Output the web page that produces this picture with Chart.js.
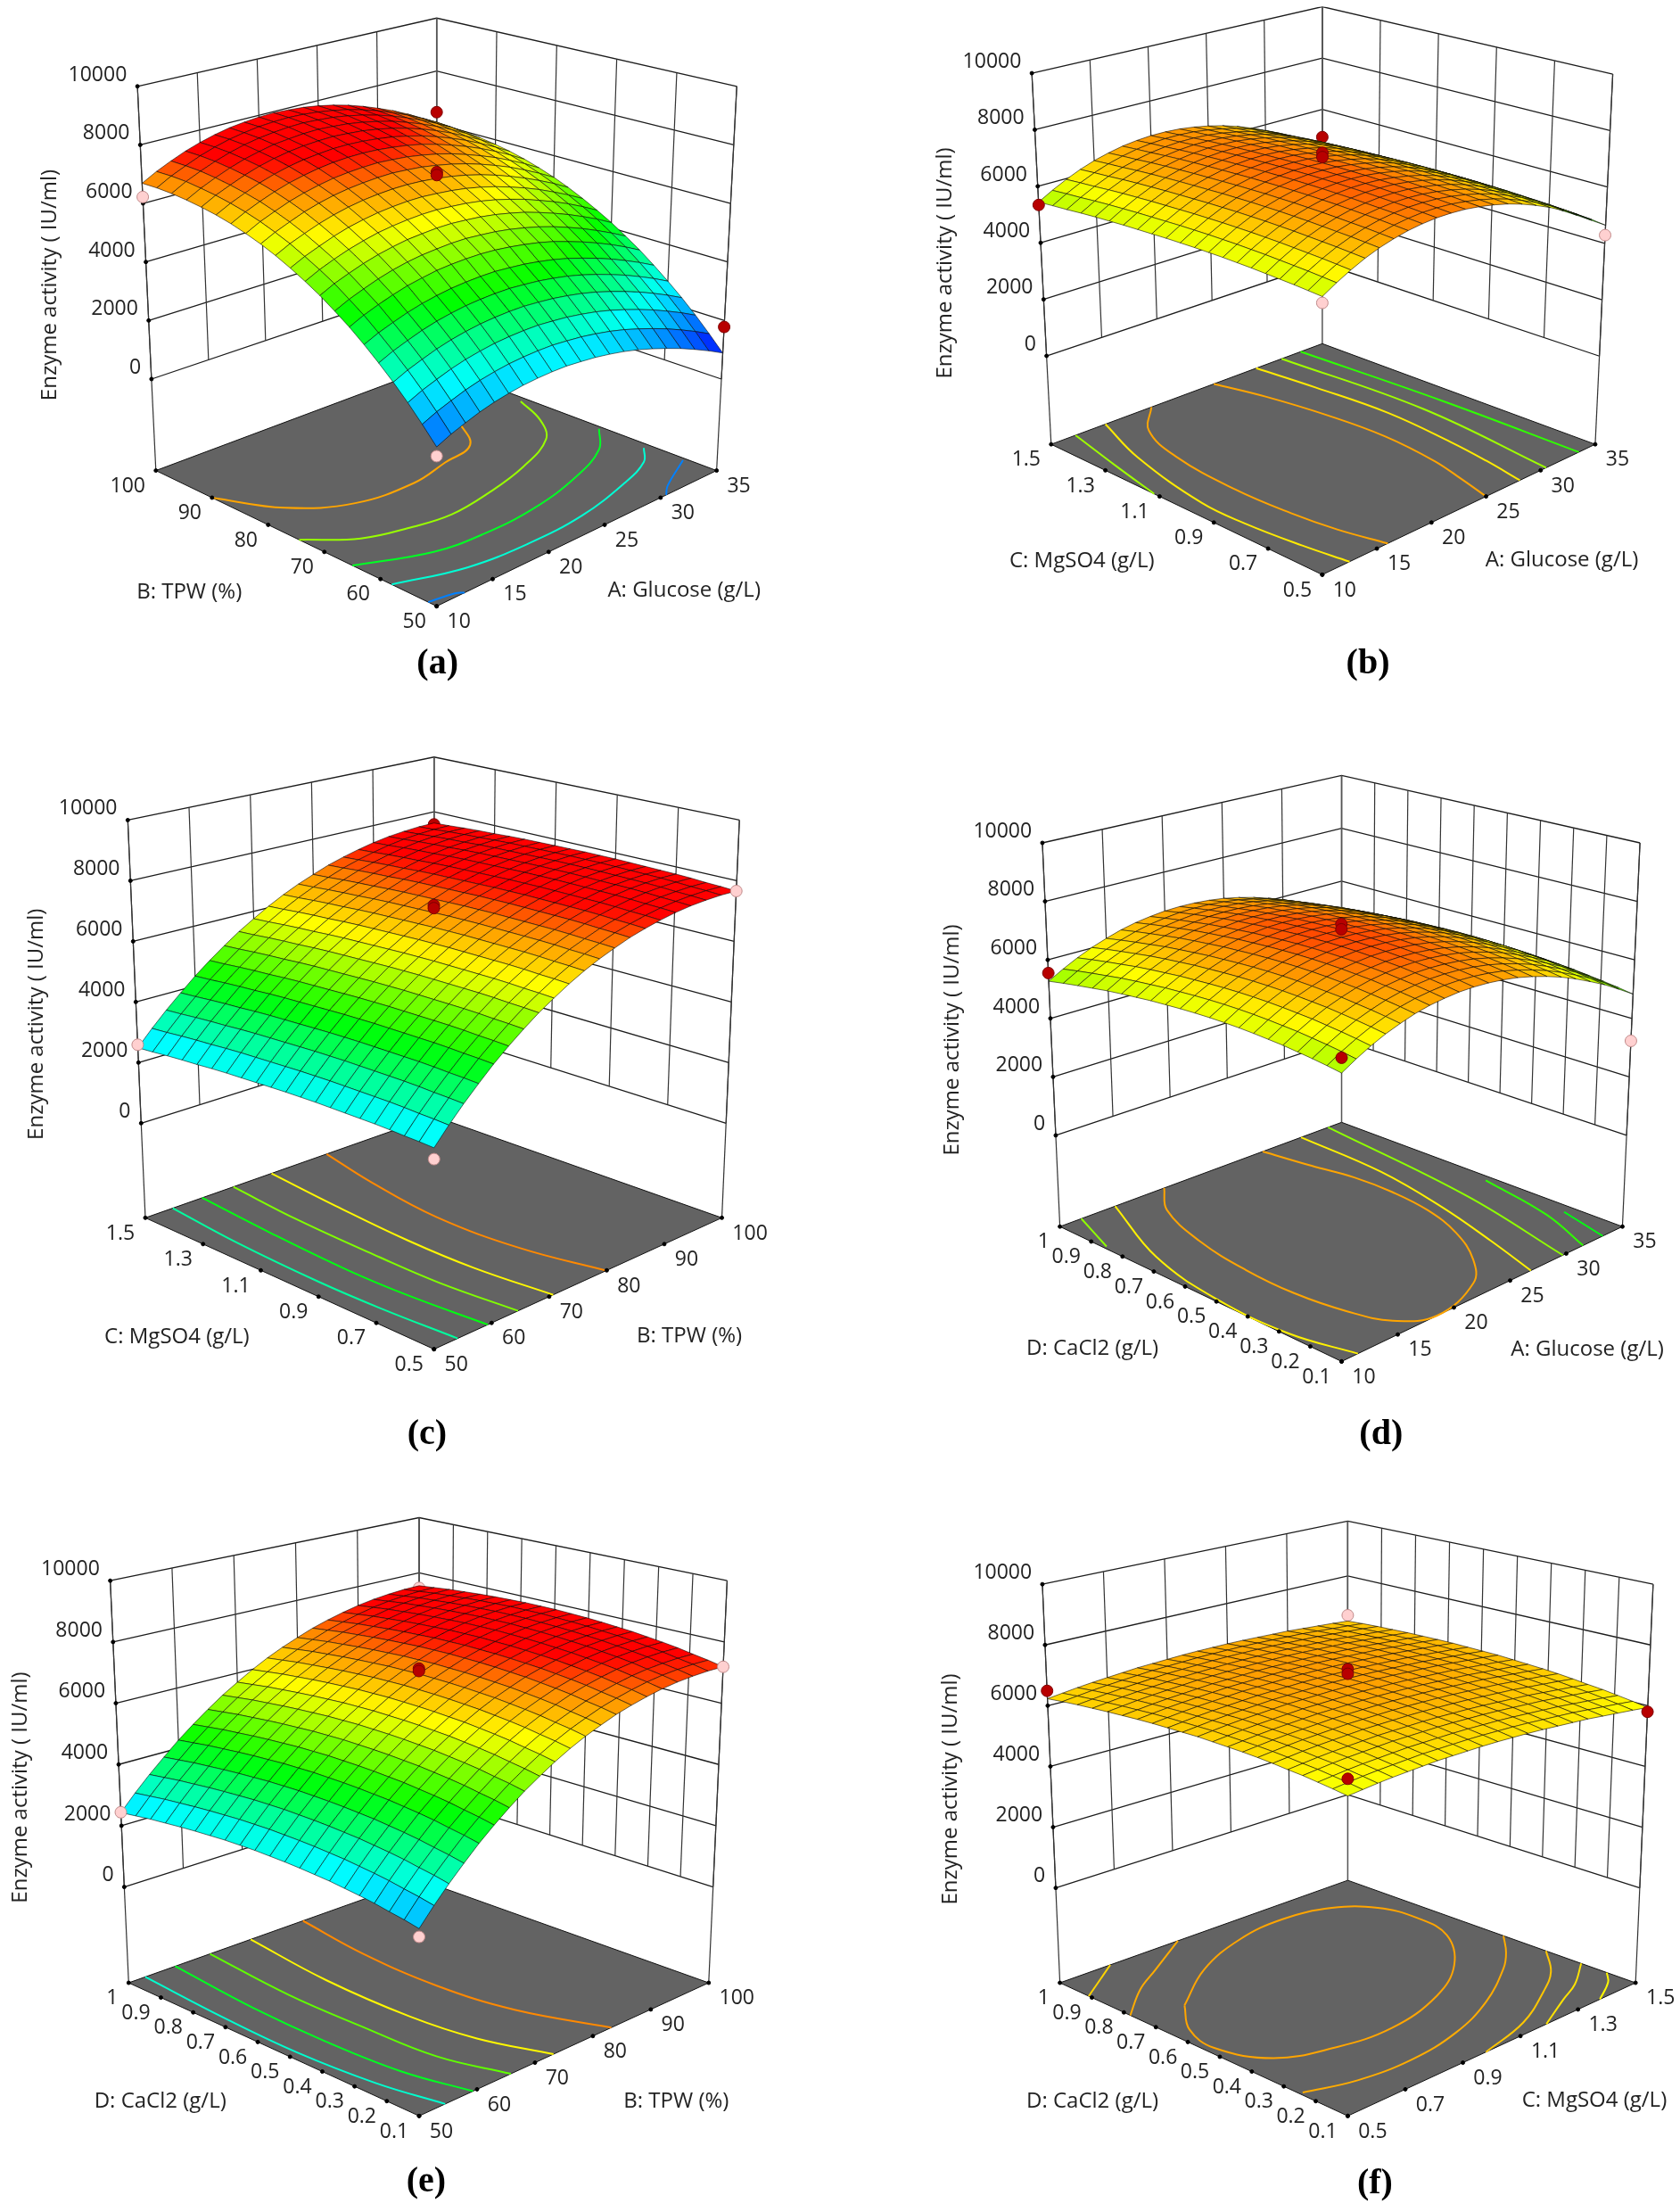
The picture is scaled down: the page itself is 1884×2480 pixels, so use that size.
<!DOCTYPE html>
<html lang="en">
<head>
<meta charset="UTF-8">
<title>Enzyme activity response surfaces</title>
<script src="https://cdn.jsdelivr.net/npm/chart.js"></script>
<style>
  body { margin: 0; background: #fff; width: 1884px; height: 2480px; position: relative; overflow: hidden; }
  canvas { position: absolute; }
</style>
</head>
<body>
<script>
// tick labels
const glucoseTicks = ['10', '15', '20', '25', '30', '35'];
const tpwTicks = ['50', '60', '70', '80', '90', '100'];
const mgso4Ticks = ['0.5', '0.7', '0.9', '1.1', '1.3', '1.5'];
const cacl2Ticks = ['0.1', '0.2', '0.3', '0.4', '0.5', '0.6', '0.7', '0.8', '0.9', '1'];
const activityTicks = [0, 2000, 4000, 6000, 8000, 10000];

// enzyme activity, one row per step of the second factor, 21 x 21
const surfaceA = [
[1540,1750,1920,2080,2210,2310,2390,2440,2470,2480,2450,2410,2340,2250,2130,1980,1810,1620,1400,1160,890],
[2040,2250,2420,2580,2710,2810,2890,2940,2970,2980,2950,2910,2840,2750,2630,2480,2310,2120,1900,1660,1390],
[2520,2730,2900,3060,3190,3290,3370,3420,3450,3460,3430,3390,3320,3230,3110,2960,2790,2600,2380,2140,1870],
[2970,3180,3350,3510,3640,3740,3820,3870,3900,3910,3880,3840,3770,3680,3560,3410,3240,3050,2830,2590,2320],
[3390,3600,3770,3930,4060,4160,4240,4290,4320,4330,4300,4260,4190,4100,3980,3830,3660,3470,3250,3010,2740],
[3790,4000,4170,4330,4460,4560,4640,4690,4720,4730,4700,4660,4590,4500,4380,4230,4060,3870,3650,3410,3140],
[4170,4390,4570,4730,4870,4970,5060,5110,5140,5150,5130,5080,5010,4920,4800,4640,4470,4270,4050,3800,3520],
[4510,4730,4910,5080,5220,5330,5410,5460,5500,5510,5480,5440,5370,5270,5150,5000,4820,4620,4390,4140,3860],
[4840,5070,5250,5420,5560,5670,5760,5810,5850,5860,5830,5790,5720,5620,5500,5340,5160,4960,4730,4480,4190],
[5130,5360,5550,5720,5860,5980,6060,6120,6160,6170,6140,6100,6030,5930,5800,5650,5460,5260,5030,4770,4480],
[5400,5630,5820,6000,6150,6260,6350,6410,6450,6460,6430,6390,6320,6220,6090,5930,5750,5540,5300,5040,4750],
[5650,5890,6080,6260,6410,6530,6620,6680,6720,6730,6710,6660,6590,6490,6360,6200,6010,5800,5560,5300,5000],
[5870,6110,6310,6500,6650,6770,6860,6920,6960,6980,6950,6910,6830,6730,6600,6440,6250,6040,5790,5520,5220],
[6060,6310,6510,6700,6850,6970,7070,7130,7170,7190,7160,7120,7040,6940,6810,6640,6450,6240,5990,5720,5410],
[6230,6480,6690,6880,7040,7160,7260,7330,7370,7380,7360,7310,7240,7140,7000,6830,6640,6420,6170,5890,5580],
[6370,6620,6830,7030,7190,7320,7420,7480,7530,7540,7520,7470,7400,7290,7160,6990,6790,6570,6310,6030,5720],
[6480,6740,6950,7150,7320,7450,7550,7620,7660,7680,7650,7610,7530,7430,7290,7120,6920,6690,6430,6150,5830],
[6570,6830,7050,7250,7420,7550,7660,7720,7770,7790,7760,7720,7640,7530,7400,7220,7020,6790,6530,6240,5920],
[6640,6910,7130,7330,7500,7640,7740,7810,7860,7880,7850,7810,7730,7620,7480,7310,7100,6870,6610,6320,5990],
[6680,6950,7170,7380,7550,7690,7790,7870,7910,7930,7910,7860,7780,7680,7530,7360,7150,6920,6650,6360,6030],
[6690,6960,7190,7400,7570,7710,7820,7890,7940,7960,7930,7890,7810,7700,7560,7380,7170,6940,6670,6370,6040]
];
const surfaceB = [
[5620,5900,6150,6370,6550,6690,6800,6870,6910,6910,6880,6810,6710,6580,6410,6200,5960,5680,5370,5020,4640],
[5650,5930,6180,6400,6580,6720,6830,6900,6940,6940,6910,6840,6740,6610,6440,6230,5990,5710,5400,5050,4670],
[5680,5960,6210,6430,6610,6750,6860,6930,6970,6970,6940,6870,6770,6640,6470,6260,6020,5740,5430,5080,4700],
[5700,5980,6230,6450,6630,6770,6880,6950,6990,6990,6960,6890,6790,6660,6490,6280,6040,5760,5450,5100,4720],
[5720,6000,6250,6470,6650,6790,6900,6970,7010,7010,6980,6910,6810,6680,6510,6300,6060,5780,5470,5120,4740],
[5740,6020,6270,6490,6670,6810,6920,6990,7030,7030,7000,6930,6830,6700,6530,6320,6080,5800,5490,5140,4760],
[5750,6030,6280,6500,6680,6820,6930,7000,7040,7040,7010,6940,6840,6710,6540,6330,6090,5810,5500,5150,4770],
[5760,6040,6290,6510,6690,6830,6940,7010,7050,7050,7020,6950,6850,6720,6550,6340,6100,5820,5510,5160,4780],
[5760,6040,6290,6510,6690,6830,6940,7010,7050,7050,7020,6950,6850,6720,6550,6340,6100,5820,5510,5160,4780],
[5760,6040,6290,6510,6690,6830,6940,7010,7050,7050,7020,6950,6850,6720,6550,6340,6100,5820,5510,5160,4780],
[5750,6030,6280,6500,6680,6820,6930,7000,7040,7040,7010,6940,6840,6710,6540,6330,6090,5810,5500,5150,4770],
[5740,6020,6270,6490,6670,6810,6920,6990,7030,7030,7000,6930,6830,6700,6530,6320,6080,5800,5490,5140,4760],
[5720,6000,6250,6470,6650,6790,6900,6970,7010,7010,6980,6910,6810,6680,6510,6300,6060,5780,5470,5120,4740],
[5700,5980,6230,6450,6630,6770,6880,6950,6990,6990,6960,6890,6790,6660,6490,6280,6040,5760,5450,5100,4720],
[5680,5960,6210,6430,6610,6750,6860,6930,6970,6970,6940,6870,6770,6640,6470,6260,6020,5740,5430,5080,4700],
[5650,5930,6180,6400,6580,6720,6830,6900,6940,6940,6910,6840,6740,6610,6440,6230,5990,5710,5400,5050,4670],
[5620,5900,6150,6370,6550,6690,6800,6870,6910,6910,6880,6810,6710,6580,6410,6200,5960,5680,5370,5020,4640],
[5580,5860,6110,6330,6510,6650,6760,6830,6870,6870,6840,6770,6670,6540,6370,6160,5920,5640,5330,4980,4600],
[5530,5810,6060,6280,6460,6600,6710,6780,6820,6820,6790,6720,6620,6490,6320,6110,5870,5590,5280,4930,4550],
[5490,5770,6020,6240,6420,6560,6670,6740,6780,6780,6750,6680,6580,6450,6280,6070,5830,5550,5240,4890,4510],
[5440,5720,5970,6190,6370,6510,6620,6690,6730,6730,6700,6630,6530,6400,6230,6020,5780,5500,5190,4840,4460]
];
const surfaceC = [
[2560,3060,3530,3970,4400,4790,5160,5510,5820,6120,6390,6630,6840,7040,7200,7340,7460,7550,7610,7650,7660],
[2590,3090,3560,4000,4430,4820,5190,5540,5850,6150,6420,6660,6870,7070,7230,7370,7490,7580,7640,7680,7690],
[2610,3110,3580,4020,4450,4840,5210,5560,5870,6170,6440,6680,6890,7090,7250,7390,7510,7600,7660,7700,7710],
[2640,3140,3610,4050,4480,4870,5240,5590,5900,6200,6470,6710,6920,7120,7280,7420,7540,7630,7690,7730,7740],
[2660,3160,3630,4070,4500,4890,5260,5610,5920,6220,6490,6730,6940,7140,7300,7440,7560,7650,7710,7750,7760],
[2670,3170,3640,4080,4510,4900,5270,5620,5930,6230,6500,6740,6950,7150,7310,7450,7570,7660,7720,7760,7770],
[2680,3180,3650,4090,4520,4910,5280,5630,5940,6240,6510,6750,6960,7160,7320,7460,7580,7670,7730,7770,7780],
[2690,3190,3660,4100,4530,4920,5290,5640,5950,6250,6520,6760,6970,7170,7330,7470,7590,7680,7740,7780,7790],
[2700,3200,3670,4110,4540,4930,5300,5650,5960,6260,6530,6770,6980,7180,7340,7480,7600,7690,7750,7790,7800],
[2700,3200,3670,4110,4540,4930,5300,5650,5960,6260,6530,6770,6980,7180,7340,7480,7600,7690,7750,7790,7800],
[2700,3200,3670,4110,4540,4930,5300,5650,5960,6260,6530,6770,6980,7180,7340,7480,7600,7690,7750,7790,7800],
[2690,3190,3660,4100,4530,4920,5290,5640,5950,6250,6520,6760,6970,7170,7330,7470,7590,7680,7740,7780,7790],
[2680,3180,3650,4090,4520,4910,5280,5630,5940,6240,6510,6750,6960,7160,7320,7460,7580,7670,7730,7770,7780],
[2670,3170,3640,4080,4510,4900,5270,5620,5930,6230,6500,6740,6950,7150,7310,7450,7570,7660,7720,7760,7770],
[2660,3160,3630,4070,4500,4890,5260,5610,5920,6220,6490,6730,6940,7140,7300,7440,7560,7650,7710,7750,7760],
[2640,3140,3610,4050,4480,4870,5240,5590,5900,6200,6470,6710,6920,7120,7280,7420,7540,7630,7690,7730,7740],
[2610,3110,3580,4020,4450,4840,5210,5560,5870,6170,6440,6680,6890,7090,7250,7390,7510,7600,7660,7700,7710],
[2590,3090,3560,4000,4430,4820,5190,5540,5850,6150,6420,6660,6870,7070,7230,7370,7490,7580,7640,7680,7690],
[2560,3060,3530,3970,4400,4790,5160,5510,5820,6120,6390,6630,6840,7040,7200,7340,7460,7550,7610,7650,7660],
[2520,3020,3490,3930,4360,4750,5120,5470,5780,6080,6350,6590,6800,7000,7160,7300,7420,7510,7570,7610,7620],
[2490,2990,3460,3900,4330,4720,5090,5440,5750,6050,6320,6560,6770,6970,7130,7270,7390,7480,7540,7580,7590]
];
const surfaceD = [
[5350,5630,5880,6100,6280,6440,6560,6640,6700,6720,6710,6670,6600,6490,6350,6180,5970,5730,5470,5160,4830],
[5430,5710,5960,6180,6360,6520,6640,6720,6780,6800,6790,6750,6680,6570,6430,6260,6050,5810,5550,5240,4910],
[5500,5780,6030,6250,6430,6590,6710,6790,6850,6870,6860,6820,6750,6640,6500,6330,6120,5880,5620,5310,4980],
[5560,5840,6090,6310,6490,6650,6770,6850,6910,6930,6920,6880,6810,6700,6560,6390,6180,5940,5680,5370,5040],
[5620,5900,6150,6370,6550,6710,6830,6910,6970,6990,6980,6940,6870,6760,6620,6450,6240,6000,5740,5430,5100],
[5660,5940,6190,6410,6590,6750,6870,6950,7010,7030,7020,6980,6910,6800,6660,6490,6280,6040,5780,5470,5140],
[5700,5980,6230,6450,6630,6790,6910,6990,7050,7070,7060,7020,6950,6840,6700,6530,6320,6080,5820,5510,5180],
[5730,6010,6260,6480,6660,6820,6940,7020,7080,7100,7090,7050,6980,6870,6730,6560,6350,6110,5850,5540,5210],
[5750,6030,6280,6500,6680,6840,6960,7040,7100,7120,7110,7070,7000,6890,6750,6580,6370,6130,5870,5560,5230],
[5760,6040,6290,6510,6690,6850,6970,7050,7110,7130,7120,7080,7010,6900,6760,6590,6380,6140,5880,5570,5240],
[5760,6040,6290,6510,6690,6850,6970,7050,7110,7130,7120,7080,7010,6900,6760,6590,6380,6140,5880,5570,5240],
[5750,6030,6280,6500,6680,6840,6960,7040,7100,7120,7110,7070,7000,6890,6750,6580,6370,6130,5870,5560,5230],
[5730,6010,6260,6480,6660,6820,6940,7020,7080,7100,7090,7050,6980,6870,6730,6560,6350,6110,5850,5540,5210],
[5710,5990,6240,6460,6640,6800,6920,7000,7060,7080,7070,7030,6960,6850,6710,6540,6330,6090,5830,5520,5190],
[5670,5950,6200,6420,6600,6760,6880,6960,7020,7040,7030,6990,6920,6810,6670,6500,6290,6050,5790,5480,5150],
[5630,5910,6160,6380,6560,6720,6840,6920,6980,7000,6990,6950,6880,6770,6630,6460,6250,6010,5750,5440,5110],
[5580,5860,6110,6330,6510,6670,6790,6870,6930,6950,6940,6900,6830,6720,6580,6410,6200,5960,5700,5390,5060],
[5510,5790,6040,6260,6440,6600,6720,6800,6860,6880,6870,6830,6760,6650,6510,6340,6130,5890,5630,5320,4990],
[5440,5720,5970,6190,6370,6530,6650,6730,6790,6810,6800,6760,6690,6580,6440,6270,6060,5820,5560,5250,4920],
[5360,5640,5890,6110,6290,6450,6570,6650,6710,6730,6720,6680,6610,6500,6360,6190,5980,5740,5480,5170,4840],
[5270,5550,5800,6020,6200,6360,6480,6560,6620,6640,6630,6590,6520,6410,6270,6100,5890,5650,5390,5080,4750]
];
const surfaceE = [
[2090,2590,3060,3500,3930,4320,4690,5040,5350,5650,5920,6160,6370,6570,6730,6870,6990,7080,7140,7180,7190],
[2190,2690,3160,3600,4030,4420,4790,5140,5450,5750,6020,6260,6470,6670,6830,6970,7090,7180,7240,7280,7290],
[2270,2770,3240,3680,4110,4500,4870,5220,5530,5830,6100,6340,6550,6750,6910,7050,7170,7260,7320,7360,7370],
[2360,2860,3330,3770,4200,4590,4960,5310,5620,5920,6190,6430,6640,6840,7000,7140,7260,7350,7410,7450,7460],
[2430,2930,3400,3840,4270,4660,5030,5380,5690,5990,6260,6500,6710,6910,7070,7210,7330,7420,7480,7520,7530],
[2490,2990,3460,3900,4330,4720,5090,5440,5750,6050,6320,6560,6770,6970,7130,7270,7390,7480,7540,7580,7590],
[2550,3050,3520,3960,4390,4780,5150,5500,5810,6110,6380,6620,6830,7030,7190,7330,7450,7540,7600,7640,7650],
[2590,3090,3560,4000,4430,4820,5190,5540,5850,6150,6420,6660,6870,7070,7230,7370,7490,7580,7640,7680,7690],
[2630,3130,3600,4040,4470,4860,5230,5580,5890,6190,6460,6700,6910,7110,7270,7410,7530,7620,7680,7720,7730],
[2660,3160,3630,4070,4500,4890,5260,5610,5920,6220,6490,6730,6940,7140,7300,7440,7560,7650,7710,7750,7760],
[2680,3180,3650,4090,4520,4910,5280,5630,5940,6240,6510,6750,6960,7160,7320,7460,7580,7670,7730,7770,7780],
[2700,3200,3670,4110,4540,4930,5300,5650,5960,6260,6530,6770,6980,7180,7340,7480,7600,7690,7750,7790,7800],
[2700,3200,3670,4110,4540,4930,5300,5650,5960,6260,6530,6770,6980,7180,7340,7480,7600,7690,7750,7790,7800],
[2700,3200,3670,4110,4540,4930,5300,5650,5960,6260,6530,6770,6980,7180,7340,7480,7600,7690,7750,7790,7800],
[2680,3180,3650,4090,4520,4910,5280,5630,5940,6240,6510,6750,6960,7160,7320,7460,7580,7670,7730,7770,7780],
[2660,3160,3630,4070,4500,4890,5260,5610,5920,6220,6490,6730,6940,7140,7300,7440,7560,7650,7710,7750,7760],
[2630,3130,3600,4040,4470,4860,5230,5580,5890,6190,6460,6700,6910,7110,7270,7410,7530,7620,7680,7720,7730],
[2590,3090,3560,4000,4430,4820,5190,5540,5850,6150,6420,6660,6870,7070,7230,7370,7490,7580,7640,7680,7690],
[2550,3050,3520,3960,4390,4780,5150,5500,5810,6110,6380,6620,6830,7030,7190,7330,7450,7540,7600,7640,7650],
[2490,2990,3460,3900,4330,4720,5090,5440,5750,6050,6320,6560,6770,6970,7130,7270,7390,7480,7540,7580,7590],
[2430,2930,3400,3840,4270,4660,5030,5380,5690,5990,6260,6500,6710,6910,7070,7210,7330,7420,7480,7520,7530]
];
const surfaceF = [
[5820,5880,5940,5990,6030,6070,6110,6130,6150,6170,6180,6180,6180,6170,6150,6130,6110,6070,6030,5990,5940],
[5900,5960,6020,6070,6110,6150,6190,6210,6230,6250,6260,6260,6260,6250,6230,6210,6190,6150,6110,6070,6020],
[5970,6030,6090,6140,6180,6220,6260,6280,6300,6320,6330,6330,6330,6320,6300,6280,6260,6220,6180,6140,6090],
[6040,6100,6160,6210,6250,6290,6330,6350,6370,6390,6400,6400,6400,6390,6370,6350,6330,6290,6250,6210,6160],
[6090,6150,6210,6260,6300,6340,6380,6400,6420,6440,6450,6450,6450,6440,6420,6400,6380,6340,6300,6260,6210],
[6150,6210,6270,6320,6360,6400,6440,6460,6480,6500,6510,6510,6510,6500,6480,6460,6440,6400,6360,6320,6270],
[6200,6260,6320,6370,6410,6450,6490,6510,6530,6550,6560,6560,6560,6550,6530,6510,6490,6450,6410,6370,6320],
[6240,6300,6360,6410,6450,6490,6530,6550,6570,6590,6600,6600,6600,6590,6570,6550,6530,6490,6450,6410,6360],
[6270,6330,6390,6440,6480,6520,6560,6580,6600,6620,6630,6630,6630,6620,6600,6580,6560,6520,6480,6440,6390],
[6300,6360,6420,6470,6510,6550,6590,6610,6630,6650,6660,6660,6660,6650,6630,6610,6590,6550,6510,6470,6420],
[6330,6390,6450,6500,6540,6580,6620,6640,6660,6680,6690,6690,6690,6680,6660,6640,6620,6580,6540,6500,6450],
[6340,6400,6460,6510,6550,6590,6630,6650,6670,6690,6700,6700,6700,6690,6670,6650,6630,6590,6550,6510,6460],
[6350,6410,6470,6520,6560,6600,6640,6660,6680,6700,6710,6710,6710,6700,6680,6660,6640,6600,6560,6520,6470],
[6360,6420,6480,6530,6570,6610,6650,6670,6690,6710,6720,6720,6720,6710,6690,6670,6650,6610,6570,6530,6480],
[6360,6420,6480,6530,6570,6610,6650,6670,6690,6710,6720,6720,6720,6710,6690,6670,6650,6610,6570,6530,6480],
[6350,6410,6470,6520,6560,6600,6640,6660,6680,6700,6710,6710,6710,6700,6680,6660,6640,6600,6560,6520,6470],
[6340,6400,6460,6510,6550,6590,6630,6650,6670,6690,6700,6700,6700,6690,6670,6650,6630,6590,6550,6510,6460],
[6320,6380,6440,6490,6530,6570,6610,6630,6650,6670,6680,6680,6680,6670,6650,6630,6610,6570,6530,6490,6440],
[6300,6360,6420,6470,6510,6550,6590,6610,6630,6650,6660,6660,6660,6650,6630,6610,6590,6550,6510,6470,6420],
[6270,6330,6390,6440,6480,6520,6560,6580,6600,6620,6630,6630,6630,6620,6600,6580,6560,6520,6480,6440,6390],
[6230,6290,6350,6400,6440,6480,6520,6540,6560,6580,6590,6590,6590,6580,6560,6540,6520,6480,6440,6400,6350]
];

// contour lines on the floor: [level, [first factor, second factor], ...]
const contoursA = [
  [6650, [10,90],[12.5,82],[16.25,77],[21,76],[24.5,77.5],[27.5,79],[29.5,85],[31.5,91.5],[32.5,100]],
  [5355, [10,74.5],[13,69.5],[16.5,67.25],[19.5,66.25],[23.25,67.25],[27.5,69.5],[31.4,73.25],[33.25,78],[34.5,84]],
  [4172, [10,65],[15,60.5],[19,59.5],[23.75,60],[28.75,62.5],[32.5,66],[34.75,70.5]],
  [3062, [10,58],[15,54.5],[20,53.5],[25,54],[30,56.5],[33,59],[34.5,62]],
  [1852, [10,51.5],[12,50.75],[12.5,50]],
  [1852, [30.5,50],[31.5,51.75],[34.75,55.5]]
];
const contoursB = [
  [6650, [25,1.5],[26,1.35],[26.75,1.15],[27,0.95],[26.5,0.75],[25.75,0.62],[25,0.5]],
  [6650, [19.25,1.5],[16.5,1.4],[15,1.24],[14.4,1],[14.6,0.8],[15.1,0.65],[16,0.5]],
  [6150, [28.9,1.5],[29.4,1.3],[29.75,1.05],[29.25,0.8],[28.75,0.65],[28.1,0.5]],
  [6150, [15,1.5],[13,1.3],[11.4,1],[11.4,0.84],[11.9,0.65],[12.5,0.5]],
  [5400, [31.25,1.5],[31.75,1],[30.5,0.5]],
  [5400, [12.25,1.5],[11,1.3],[10,1.12]],
  [4700, [33,1.5],[33.5,1],[33.5,0.5]]
];
const contoursC = [
  [6850, [79.9,0.5],[77.5,0.75],[77,1.03],[79,1.3],[81.4,1.5]],
  [6050, [70.7,0.5],[69.5,0.75],[69.5,0.98],[70.5,1.25],[71.85,1.5]],
  [5200, [64.6,0.5],[63.5,0.75],[63.5,0.96],[64,1.25],[65.25,1.5]],
  [4300, [59.35,0.5],[58.25,0.75],[58,0.96],[58.75,1.25],[59.85,1.5]],
  [3400, [54.1,0.5],[53.25,0.75],[53,0.96],[53.5,1.25],[54.75,1.5]]
];
const contoursD = [
  [6650, [19.25,1],[17,0.91],[15.3,0.745],[14.5,0.568],[14.4,0.41],[15,0.262],[16.1,0.156],[18.5,0.1],[23.25,0.154],[25.6,0.24],[27.6,0.366],[28.8,0.5],[29.25,0.63],[29.2,0.75],[28.6,0.865],[28,1]],
  [6100, [31.4,1],[31,0.73],[29.75,0.49],[28.25,0.28],[26.85,0.1]],
  [6100, [14.9,1],[11.6,0.75],[10.25,0.51],[10.25,0.28],[11.45,0.1]],
  [5300, [33.8,1],[32,0.49],[29.7,0.1]],
  [5300, [11.9,1],[10.25,0.86]],
  [4700, [34.5,0.52],[33.25,0.28],[31.5,0.1]],
  [4300, [34.25,0.26],[33.25,0.1]]
];
const contoursE = [
  [6850, [83.2,0.1],[79,0.325],[77.5,0.54],[78,0.775],[80,1]],
  [6050, [73.2,0.1],[70,0.28],[68.75,0.465],[69,0.73],[71,1]],
  [5000, [65.85,0.1],[63,0.28],[62.5,0.505],[62.5,0.73],[64,1]],
  [4200, [59.3,0.1],[57,0.28],[56.25,0.505],[56.5,0.73],[58,1]],
  [3100, [54.5,0.1],[52.5,0.28],[51.5,0.505],[51.75,0.73],[52.85,1]]
];
const contoursF = [
  [6650, [0.644,0.74],[0.554,0.644],[0.525,0.54],[0.592,0.415],[0.736,0.36],[0.92,0.34],[1.13,0.388],[1.29,0.478],[1.41,0.609],[1.44,0.73],[1.42,0.834],[1.34,0.906],[1.2,0.934],[1.03,0.915],[0.83,0.847],[0.644,0.74]],
  [6600, [0.5,0.78],[0.625,0.862],[0.735,0.915],[0.91,1]],
  [6600, [0.51,0.25],[0.653,0.207],[0.827,0.194],[1.01,0.22],[1.185,0.284],[1.357,0.384],[1.43,0.442],[1.5,0.513]],
  [6300, [0.5,0.91],[0.675,1]],
  [6400, [1.5,0.38],[1.417,0.29],[1.32,0.226],[1.16,0.145],[0.98,0.1]],
  [6200, [1.5,0.27],[1.4,0.2],[1.32,0.163],[1.19,0.1]],
  [6050, [1.5,0.19],[1.46,0.15],[1.376,0.1]]
];

// design points: above (red) and below (pink) the surface
const redPointsA = [[35,100,6445],[22.5,75,7150],[22.5,75,7050],[35,50,1780]];
const pinkPointsA = [[10,100,6220],[10,50,1270]];
const redPointsB = [[35,1.5,4920],[22.5,1,7370],[22.5,1,7217],[10,1.5,5340]];
const pinkPointsB = [[35,0.5,4290],[10,0.5,5420]];
const redPointsC = [[100,1.5,7540],[75,1,7250],[75,1,7155]];
const pinkPointsC = [[50,1.5,2590],[100,0.5,7660],[50,0.5,2240]];
const redPointsD = [[22.5,0.55,7310],[22.5,0.55,7130],[10,1,5550],[10,0.1,5800]];
const pinkPointsD = [[35,0.1,3230]];
const redPointsE = [[75,0.55,7190],[75,0.55,7110]];
const pinkPointsE = [[100,1,7450],[50,1,2440],[100,0.1,7190],[50,0.1,1860]];
const redPointsF = [[1,0.55,7250],[1,0.55,7100],[0.5,1,6490],[1.5,0.1,5800],[0.5,0.1,6300]];
const pinkPointsF = [[1.5,1,6560]];

// page layout of each panel: box corners on floor and top, canvas frame, text places
const panels = [
  { name: '(a)', frame: [0, 0, 942, 800], zFloor: -3125,
    floor: { F: [490,685], R: [809,530], L: [170,530], B: [490,410] },
    top: { F: [490,173], R: [832,91], L: [149,91], B: [490,13] },
    aTicks: glucoseTicks, bTicks: tpwTicks, surface: surfaceA, contours: contoursA, red: redPointsA, pink: pinkPointsA,
    aTitle: ['A: Glucose (g/L)', 772, 667], bTitle: ['B: TPW (%)', 208, 669], yTitle: [49, 318], caption: [491, 751] },
  { name: '(b)', frame: [942, 0, 942, 800], zFloor: -3127,
    floor: { F: [1484,649], R: [1795,500], L: [1175,500], B: [1484,385] },
    top: { F: [1484,172], R: [1815,77], L: [1153,76], B: [1484,0] },
    aTicks: glucoseTicks, bTicks: mgso4Ticks, surface: surfaceB, contours: contoursB, red: redPointsB, pink: pinkPointsB,
    aTitle: ['A: Glucose (g/L)', 1757, 633], bTitle: ['C: MgSO4 (g/L)', 1210, 634], yTitle: [1054, 293], caption: [1536, 751] },
  { name: '(c)', frame: [0, 800, 942, 840], zFloor: -3121,
    floor: { F: [487,1518], R: [815,1368], L: [158,1368], B: [487,1252] },
    top: { F: [487,987], R: [835,914], L: [138,914], B: [487,842] },
    aTicks: tpwTicks, bTicks: mgso4Ticks, surface: surfaceC, contours: contoursC, red: redPointsC, pink: pinkPointsC,
    aTitle: ['B: TPW (%)', 778, 1503], bTitle: ['C: MgSO4 (g/L)', 194, 1504], yTitle: [34, 1147], caption: [479, 1616] },
  { name: '(d)', frame: [942, 800, 942, 840], zFloor: -3118,
    floor: { F: [1506,1532], R: [1826,1378], L: [1185,1378], B: [1506,1259] },
    top: { F: [1506,1022], R: [1846,940], L: [1165,940], B: [1506,863] },
    aTicks: glucoseTicks, bTicks: cacl2Ticks, surface: surfaceD, contours: contoursD, red: redPointsD, pink: pinkPointsD,
    aTitle: ['A: Glucose (g/L)', 1786, 1518], bTitle: ['D: CaCl2 (g/L)', 1222, 1517], yTitle: [1063, 1165], caption: [1551, 1616] },
  { name: '(e)', frame: [0, 1640, 942, 840], zFloor: -3129,
    floor: { F: [470,2378], R: [800,2226], L: [139,2226], B: [470,2108] },
    top: { F: [470,1840], R: [821,1767], L: [118,1767], B: [470,1695] },
    aTicks: tpwTicks, bTicks: cacl2Ticks, surface: surfaceE, contours: contoursE, red: redPointsE, pink: pinkPointsE,
    aTitle: ['B: TPW (%)', 763, 2362], bTitle: ['D: CaCl2 (g/L)', 175, 2362], yTitle: [16, 2003], caption: [478, 2454] },
  { name: '(f)', frame: [942, 1640, 942, 840], zFloor: -3125,
    floor: { F: [1513,2378], R: [1841,2226], L: [1185,2226], B: [1513,2109] },
    top: { F: [1513,1842], R: [1861,1771], L: [1165,1771], B: [1513,1699] },
    aTicks: mgso4Ticks, bTicks: cacl2Ticks, surface: surfaceF, contours: contoursF, red: redPointsF, pink: pinkPointsF,
    aTitle: ['C: MgSO4 (g/L)', 1794, 2361], bTitle: ['D: CaCl2 (g/L)', 1222, 2362], yTitle: [1061, 2005], caption: [1544, 2456] }
];

// colour ramp used by the surface and the contours
const rampLevels = [900, 2800, 4400, 6000, 6900, 7400];
const rampColors = [[0,0,255],[0,255,255],[0,255,0],[255,255,0],[255,130,0],[255,0,0]];

function rampColor(z) {
  if (z <= rampLevels[0]) return 'rgb(0,0,255)';
  for (let i = 1; i < rampLevels.length; i++) {
    if (z <= rampLevels[i]) {
      const t = (z - rampLevels[i-1]) / (rampLevels[i] - rampLevels[i-1]);
      const c = rampColors[i-1].map((v, k) => Math.round(v + (rampColors[i][k] - v) * t));
      return 'rgb(' + c.join(',') + ')';
    }
  }
  return 'rgb(255,0,0)';
}

function drawPanel(p) {
  const aMin = parseFloat(p.aTicks[0]), aMax = parseFloat(p.aTicks[p.aTicks.length-1]);
  const bMin = parseFloat(p.bTicks[0]), bMax = parseFloat(p.bTicks[p.bTicks.length-1]);

  function corner(c, u, v, k) {
    return c.F[k]*(1-u)*(1-v) + c.R[k]*u*(1-v) + c.L[k]*(1-u)*v + c.B[k]*u*v;
  }
  // 3D value -> position inside the box
  function project(a, b, z) {
    const u = (a - aMin) / (aMax - aMin), v = (b - bMin) / (bMax - bMin);
    const t = (z - p.zFloor) / (10000 - p.zFloor);
    return {
      x: corner(p.floor, u, v, 0) + (corner(p.top, u, v, 0) - corner(p.floor, u, v, 0)) * t,
      y: corner(p.floor, u, v, 1) + (corner(p.top, u, v, 1) - corner(p.floor, u, v, 1)) * t
    };
  }

  const sets = [];
  const line = (pts, color, width, tension) => sets.push({
    data: pts, showLine: true, borderColor: color, borderWidth: width, pointRadius: 0, tension: tension || 0, fill: false
  });
  const dots = (pts, fillCol, edgeCol, r) => sets.push({
    data: pts, showLine: false, pointRadius: r, backgroundColor: fillCol, borderColor: edgeCol, borderWidth: 1
  });
  const shape = (pts, fillCol, edgeCol, width) => sets.push({
    data: pts, showLine: true, fill: 'shape', backgroundColor: fillCol, borderColor: edgeCol, borderWidth: width, pointRadius: 0, tension: 0
  });

  // back walls
  activityTicks.forEach(z => line([project(aMin,bMax,z), project(aMax,bMax,z), project(aMax,bMin,z)], '#1c1c1c', 1.3));
  p.aTicks.forEach(t => line([project(parseFloat(t),bMax,0), project(parseFloat(t),bMax,10000)], '#333', 1.2));
  p.bTicks.forEach(t => line([project(aMax,parseFloat(t),0), project(aMax,parseFloat(t),10000)], '#333', 1.2));
  line([project(aMin,bMax,p.zFloor), project(aMin,bMax,10000)], '#333', 1.2);
  line([project(aMax,bMax,p.zFloor), project(aMax,bMax,10000)], '#555', 1.5);
  line([project(aMax,bMin,p.zFloor), project(aMax,bMin,10000)], '#333', 1.2);

  // floor with its contours
  const z0 = p.zFloor;
  shape([project(aMin,bMin,z0), project(aMax,bMin,z0), project(aMax,bMax,z0), project(aMin,bMax,z0), project(aMin,bMin,z0)], '#636363', '#111', 1);
  p.contours.forEach(c => line(c.slice(1).map(q => project(q[0], q[1], z0)), rampColor(c[0]), 2, 0.4));

  // tick dots
  dots(activityTicks.map(z => project(aMin,bMax,z)), '#000', '#000', 2);
  dots(p.aTicks.map(t => project(parseFloat(t),bMin,z0)), '#000', '#000', 2);
  dots(p.bTicks.map(t => project(aMin,parseFloat(t),z0)), '#000', '#000', 2);

  const isBack = q => q[0] === aMax && q[1] === bMax;
  const redDot = ['#b80000', '#7d0000'], pinkDot = ['#ffd0d0', '#c08a8a'];
  // the point on the back corner sits behind the surface edge
  const back = p.red.filter(isBack).map(q => [q, redDot]).concat(p.pink.filter(isBack).map(q => [q, pinkDot]));
  back.forEach(e => dots([project(e[0][0], e[0][1], e[0][2])], e[1][0], e[1][1], 6.5));

  // surface, painted from the back corner forward
  const rows = p.surface.length, cols = p.surface[0].length;
  const av = i => aMin + (aMax - aMin) * i / (cols - 1);
  const bv = j => bMin + (bMax - bMin) * j / (rows - 1);
  const cells = [];
  for (let j = 0; j < rows - 1; j++) for (let i = 0; i < cols - 1; i++) cells.push([i, j]);
  cells.sort((m, n) => (n[0] + n[1]) - (m[0] + m[1]));
  cells.forEach(([i, j]) => {
    const s = p.surface;
    const mean = (s[j][i] + s[j][i+1] + s[j+1][i] + s[j+1][i+1]) / 4;
    const pts = [
      project(av(i), bv(j), s[j][i]),
      project(av(i+1), bv(j), s[j][i+1]),
      project(av(i+1), bv(j+1), s[j+1][i+1]),
      project(av(i), bv(j+1), s[j+1][i])
    ];
    pts.push(pts[0]);
    shape(pts, rampColor(mean), 'rgba(0,0,0,0.7)', 0.8);
  });

  // remaining design points on top
  p.pink.filter(q => !isBack(q)).forEach(q => dots([project(q[0], q[1], q[2])], pinkDot[0], pinkDot[1], 6.5));
  p.red.filter(q => !isBack(q)).forEach(q => dots([project(q[0], q[1], q[2])], redDot[0], redDot[1], 6.5));

  const [ox, oy, w, h] = p.frame;
  const canvas = document.createElement('canvas');
  canvas.width = w; canvas.height = h;
  canvas.style.left = ox + 'px'; canvas.style.top = oy + 'px';
  canvas.style.width = w + 'px'; canvas.style.height = h + 'px';
  document.body.appendChild(canvas);

  const textPlugin = {
    id: 'panelText',
    afterDraw(chart) {
      const ctx = chart.ctx, sx = chart.scales.x, sy = chart.scales.y;
      const px = x => sx.getPixelForValue(x), py = y => sy.getPixelForValue(y);
      const put = (text, x, y, align) => {
        ctx.textAlign = align;
        ctx.fillText(text, px(x), py(y));
      };
      ctx.save();
      ctx.fillStyle = '#222';
      ctx.textBaseline = 'middle';
      ctx.font = '23px "Open Sans"';
      activityTicks.forEach(z => {
        const q = project(aMin, bMax, z);
        put(String(z), q.x - 12, q.y - 13, 'right');
      });
      p.aTicks.forEach(t => {
        const q = project(parseFloat(t), bMin, z0);
        put(t, q.x + 12, q.y + 18, 'left');
      });
      p.bTicks.forEach(t => {
        const q = project(aMin, parseFloat(t), z0);
        put(t, q.x - 12, q.y + 18, 'right');
      });
      ctx.font = '24px "Open Sans"';
      put(p.aTitle[0], p.aTitle[1], p.aTitle[2], 'center');
      put(p.bTitle[0], p.bTitle[1], p.bTitle[2], 'center');
      ctx.save();
      ctx.translate(px(p.yTitle[0]), py(p.yTitle[1]));
      ctx.rotate(-Math.PI / 2);
      ctx.textAlign = 'center';
      ctx.fillText('Enzyme activity ( IU/ml)', 0, 0);
      ctx.restore();
      ctx.fillStyle = '#000';
      ctx.font = 'bold 40px "Liberation Serif"';
      put(p.name, p.caption[0], p.caption[1], 'center');
      ctx.restore();
    }
  };

  new Chart(canvas, {
    type: 'scatter',
    data: { datasets: sets.reverse() },
    options: {
      responsive: false,
      animation: false,
      events: [],
      layout: { padding: 0 },
      plugins: { legend: { display: false }, tooltip: { enabled: false } },
      scales: {
        x: { type: 'linear', display: false, min: ox, max: ox + w },
        y: { type: 'linear', display: false, min: oy, max: oy + h, reverse: true }
      }
    },
    plugins: [textPlugin]
  });
}

panels.forEach(drawPanel);
</script>
</body>
</html>
